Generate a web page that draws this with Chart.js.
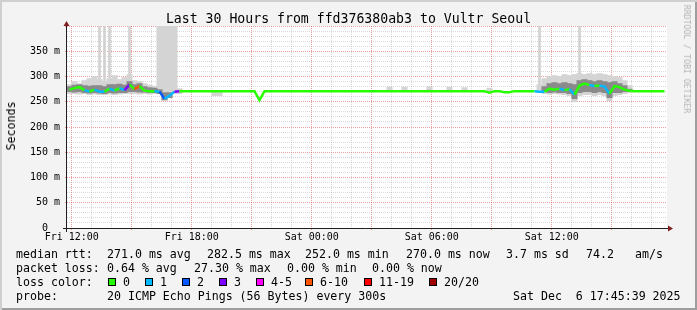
<!DOCTYPE html>
<html>
<head>
<meta charset="utf-8">
<title>Last 30 Hours from ffd376380ab3 to Vultr Seoul</title>
<script src="https://cdn.jsdelivr.net/npm/chart.js@4.4.1/dist/chart.umd.min.js"></script>
<style>
	body { margin: 0; }
	#graph {
		position: relative; width: 697px; height: 310px; overflow: hidden;
		background: #f3f3f3;
		box-shadow: inset 2px 2px 0 #cfcfcf, inset -2px -2px 0 #9e9e9e;
		font-family: "DejaVu Sans Mono", monospace; color: #000;
	}
	#graph canvas { position: absolute; left: 0; top: 0; }
	.t { position: absolute; white-space: pre; font-size: 11.6px; line-height: 14px; }
	.title { left: 0; width: 697px; top: 11px; text-align: center; font-size: 13.2px; line-height: 16px; }
	.ylabel { left: 11px; top: 126px; transform: translate(-50%, -50%) rotate(-90deg); }
	.stamp { left: 687px; top: 59px; transform: translate(-50%, -50%) rotate(90deg); font-size: 8.2px; line-height: 10px; color: #b4b4b4; }
	.box { position: absolute; width: 6px; height: 6px; border: 1px solid #000; top: 278px; }
</style>
</head>
<body>
<div id="graph">
	<canvas id="chart" width="697" height="310"></canvas>
	<div class="t title">Last 30 Hours from ffd376380ab3 to Vultr Seoul</div>
	<div class="t ylabel">Seconds</div>
	<div class="t stamp">RRDTOOL / TOBI OETIKER</div>
</div>
<script>
const _ = null;

// one sample every 15 minutes, first one starts at Fri 11:45:39 (hours after Fri 00:00)
const startHour = 11.76;
const stepHour = 0.25;

// x axis: labelled hours and their text
const tickHours = [12, 18, 24, 30, 36];
const tickLabels = ['Fri 12:00', 'Fri 18:00', 'Sat 00:00', 'Sat 06:00', 'Sat 12:00'];

// median rtt in ms
const median = [
	274, 277, 279, 273, 270, 274, 270, 270, 276, 272,
	277, 273, 284, 275, 281, 272, 271, 271, 270, 256,
	262, 270, 271, 271, 271, 271, 271, 271, 271, 271,
	271, 271, 271, 271, 271, 271, 271, 271, 253, 271,
	271, 271, 271, 271, 271, 271, 271, 271, 271, 271,
	271, 271, 271, 271, 271, 271, 271, 271, 271, 271,
	271, 271, 271, 271, 271, 271, 271, 271, 271, 271,
	271, 271, 271, 271, 271, 271, 271, 271, 271, 271,
	271, 271, 271, 271, 268, 271, 271, 269, 269, 271,
	271, 271, 271, 271, 270, 270, 276, 274, 276, 273,
	275, 264, 282, 286, 283, 281, 282, 280, 266, 281,
	279, 274, 272, 271, 271, 271, 271, 271, 271, 271
];

// lost pings per sample, as an index into lossColors
const loss = [
	0, 0, 0, 0, 1, 0, 1, 1, 0, 1,
	0, 1, 3, 0, 5, 0, 0, 0, 1, 2,
	1, 1, 3, 0, 0, 0, 0, 0, 0, 0,
	0, 0, 0, 0, 0, 0, 0, 0, 0, 0,
	0, 0, 0, 0, 0, 0, 0, 0, 0, 0,
	0, 0, 0, 0, 0, 0, 0, 0, 0, 0,
	0, 0, 0, 0, 0, 0, 0, 0, 0, 0,
	0, 0, 0, 0, 0, 0, 0, 0, 0, 0,
	0, 0, 0, 0, 0, 0, 0, 0, 0, 0,
	0, 0, 0, 0, 1, 1, 0, 0, 0, 1,
	0, 1, 0, 0, 0, 1, 0, 1, 1, 0,
	0, 0, 0, 0, 0, 0, 0, 0, 0, 0
];

// smoke: spread of all pings (light) and of the middle pings (dark), ms
const smokeLo = [
	266, 266, 265, 266, 264, 265, 264, 264, 265, 264,
	265, 266, 266, 266, 265, 266, 265, 266, 268, 252,
	258, 266, 266, _, _, _, _, _, _, 262,
	262, _, _, _, _, _, _, _, _, _,
	_, _, _, _, _, _, _, _, _, _,
	_, _, _, _, _, _, _, _, _, _,
	_, _, _, _, 271, _, _, 271, _, _,
	_, _, 271, _, _, _, 271, _, _, 271,
	_, _, _, _, 268, _, _, _, _, _,
	_, _, _, _, 268, 266, 265, 266, 265, 264,
	262, 250, 262, 264, 264, 262, 264, 262, 252, 262,
	264, 266, 268, _, _, _, _, _, _, _
];
const smokeHi = [
	284, 290, 286, 292, 296, 300, 294, 290, 296, 302,
	294, 298, 304, 292, 290, 286, 283, 281, 400, 400,
	400, 400, 276, _, _, _, _, _, _, 271,
	271, _, _, _, _, _, _, _, _, _,
	_, _, _, _, _, _, _, _, _, _,
	_, _, _, _, _, _, _, _, _, _,
	_, _, _, _, 279, _, _, 279, _, _,
	_, _, 280, _, _, _, 279, _, _, 278,
	_, _, _, _, 277, _, _, _, _, _,
	_, _, _, _, 284, 296, 300, 302, 300, 304,
	302, 304, 306, 304, 306, 304, 306, 304, 302, 300,
	298, 292, 282, _, _, _, _, _, _, _
];
const coreLo = [
	270, 269, 270, 268, 267, 268, 267, 266, 268, 267,
	268, 268, 270, 270, 269, 269, 268, 268, 266, 254,
	258, _, _, _, _, _, _, _, _, _,
	_, _, _, _, _, _, _, _, _, _,
	_, _, _, _, _, _, _, _, _, _,
	_, _, _, _, _, _, _, _, _, _,
	_, _, _, _, _, _, _, _, _, _,
	_, _, _, _, _, _, _, _, _, _,
	_, _, _, _, _, _, _, _, _, _,
	_, _, _, _, _, 270, 268, 269, 268, 268,
	266, 256, 268, 270, 270, 268, 270, 268, 258, 268,
	268, 270, 270, _, _, _, _, _, _, _
];
const coreHi = [
	280, 283, 284, 282, 281, 282, 282, 280, 284, 284,
	285, 283, 290, 284, 286, 280, 278, 277, 274, 268,
	268, _, _, _, _, _, _, _, _, _,
	_, _, _, _, _, _, _, _, _, _,
	_, _, _, _, _, _, _, _, _, _,
	_, _, _, _, _, _, _, _, _, _,
	_, _, _, _, _, _, _, _, _, _,
	_, _, _, _, _, _, _, _, _, _,
	_, _, _, _, _, _, _, _, _, _,
	_, _, _, _, _, 280, 286, 288, 286, 288,
	286, 284, 292, 294, 292, 290, 292, 290, 288, 290,
	286, 282, 275, _, _, _, _, _, _, _
];
// single slow pings that go past the top of the graph
const spikeTop = [
	_, _, _, _, _, _, 400, 400, 400, _,
	_, _, 400, _, _, _, _, _, _, _,
	_, _, _, _, _, _, _, _, _, _,
	_, _, _, _, _, _, _, _, _, _,
	_, _, _, _, _, _, _, _, _, _,
	_, _, _, _, _, _, _, _, _, _,
	_, _, _, _, _, _, _, _, _, _,
	_, _, _, _, _, _, _, _, _, _,
	_, _, _, _, _, _, _, _, _, _,
	_, _, _, _, 400, _, _, _, _, _,
	_, _, 400, _, _, _, _, _, _, _,
	_, _, _, _, _, _, _, _, _, _
];

const lossColors = ['#26ff00', '#00b8ff', '#0059ff', '#7e00ff', '#ff00ff', '#ff5500', '#ff0000', '#a10000'];
const lossLabels = ['0', '1', '2', '3', '4-5', '6-10', '11-19', '20/20'];

const GRID = 'rgba(143,143,143,0.35)';
const MGRID = 'rgba(222,79,79,0.55)';
const FONT = 'DejaVu Sans Mono';

function sampleHour(i) {
	return startHour + (i + 0.5) * stepHour;
}

function floating(lo, hi) {
	const out = [];
	lo.forEach((v, i) => {
		if (v !== null && hi[i] !== null) out.push({x: sampleHour(i), y: [v, hi[i]]});
	});
	return out;
}

const hourTicks = [];
for (let h = 12; h <= 41; h++) hourTicks.push(h);
const msTicks = [];
for (let v = 0; v <= 400; v += 10) msTicks.push(v);

const frame = {
	id: 'frame',
	beforeDraw(chart) {
		const {ctx, chartArea: a} = chart;
		ctx.save();
		ctx.fillStyle = '#fff';
		ctx.fillRect(a.left, a.top, a.right - a.left, a.bottom - a.top);
		ctx.restore();
	},
	afterDatasetsDraw(chart) {
		const {ctx, chartArea: a} = chart;
		ctx.save();
		ctx.strokeStyle = '#1f1f1f';
		ctx.lineWidth = 1;
		ctx.beginPath();
		ctx.moveTo(a.left - 4, a.bottom + 0.5);
		ctx.lineTo(a.right + 1, a.bottom + 0.5);
		ctx.moveTo(a.left - 0.5, a.bottom + 4);
		ctx.lineTo(a.left - 0.5, a.top);
		ctx.stroke();
		ctx.fillStyle = '#801f1f';
		ctx.beginPath();
		ctx.moveTo(a.right + 1, a.bottom - 2.5);
		ctx.lineTo(a.right + 6, a.bottom + 0.5);
		ctx.lineTo(a.right + 1, a.bottom + 3.5);
		ctx.fill();
		ctx.beginPath();
		ctx.moveTo(a.left - 3.5, a.top);
		ctx.lineTo(a.left - 0.5, a.top - 5);
		ctx.lineTo(a.left + 2.5, a.top);
		ctx.fill();
		ctx.restore();
	}
};

new Chart(document.getElementById('chart'), {
	type: 'bar',
	data: {
		datasets: [{
			type: 'line',
			label: 'median rtt',
			order: 0,
			data: median.map((v, i) => ({x: sampleHour(i), y: v})),
			borderColor: lossColors[0],
			borderWidth: 2.5,
			pointRadius: 0,
			segment: {
				borderColor: c => lossColors[loss[c.p1DataIndex]]
			}
		}, {
			label: 'core smoke',
			order: 1,
			data: floating(coreLo, coreHi),
			backgroundColor: '#8a8a8a',
			barThickness: 5.4,
			grouped: false
		}, {
			label: 'smoke',
			order: 2,
			data: floating(smokeLo, smokeHi),
			backgroundColor: '#d4d4d4',
			barThickness: 5.4,
			grouped: false
		}, {
			label: 'outliers',
			order: 3,
			data: floating(median, spikeTop),
			backgroundColor: '#d2d2d2',
			barThickness: 2,
			grouped: false
		}]
	},
	options: {
		responsive: false,
		animation: false,
		layout: {padding: {top: 26, right: 30, left: 0, bottom: 0}},
		plugins: {
			legend: {display: false},
			tooltip: {enabled: false}
		},
		scales: {
			x: {
				type: 'linear',
				offset: false,
				min: startHour,
				max: startHour + 30,
				afterBuildTicks: s => { s.ticks = hourTicks.map(v => ({value: v})); },
				afterFit: s => { s.height = 82; },
				grid: {
					offset: false,
					color: c => (c.tick && c.tick.value % 3 === 0) ? MGRID : GRID,
					tickColor: c => (c.tick && c.tick.value % 3 === 0) ? MGRID : 'transparent',
					tickLength: 2
				},
				border: {display: false, dash: [1, 1]},
				ticks: {
					autoSkip: false,
					maxRotation: 0,
					minRotation: 0,
					padding: 1,
					color: '#000',
					font: {family: FONT, size: 10},
					callback: v => {
						const k = tickHours.indexOf(v);
						return k < 0 ? '' : tickLabels[k];
					}
				}
			},
			y: {
				min: 0,
				max: 400,
				afterBuildTicks: s => { s.ticks = msTicks.map(v => ({value: v})); },
				afterFit: s => { s.width = 67; },
				grid: {
					color: c => (c.tick && c.tick.value % 50 === 0) ? MGRID : GRID,
					tickColor: c => (c.tick && c.tick.value % 50 === 0) ? MGRID : 'transparent',
					tickLength: 2
				},
				border: {display: false, dash: [1, 1]},
				ticks: {
					autoSkip: false,
					padding: 5,
					color: '#000',
					font: {family: FONT, size: 10},
					callback: v => {
						if (v % 50 !== 0 || v >= 400) return '';
						return v === 0 ? '0  ' : v + ' m';
					}
				}
			}
		}
	},
	plugins: [frame]
});

// legend lines under the graph
const legendRows = [
	[[16, 'median rtt:'], [107, '271.0 ms avg'], [207, '282.5 ms max'], [305, '252.0 ms min'],
		[406, '270.0 ms now'], [506, '3.7 ms sd'], [586, '74.2'], [635, 'am/s']],
	[[16, 'packet loss:'], [107, '0.64 % avg'], [194, '27.30 % max'], [287, '0.00 % min'], [372, '0.00 % now']],
	[[16, 'loss color:']],
	[[16, 'probe:'], [107, '20 ICMP Echo Pings (56 Bytes) every 300s'], [513, 'Sat Dec  6 17:45:39 2025']]
];
const lossLabelX = [123, 160, 197, 234, 271, 320, 379, 444];

const graph = document.getElementById('graph');
function put(x, y, text) {
	const el = document.createElement('div');
	el.className = 't';
	el.style.left = x + 'px';
	el.style.top = y + 'px';
	el.textContent = text;
	graph.appendChild(el);
}
legendRows.forEach((row, r) => {
	row.forEach(([x, text]) => put(x, 247 + r * 14, text));
});
lossLabels.forEach((label, i) => {
	const box = document.createElement('div');
	box.className = 'box';
	box.style.left = (lossLabelX[i] - 15) + 'px';
	box.style.background = lossColors[i];
	graph.appendChild(box);
	put(lossLabelX[i], 275, label);
});
</script>
</body>
</html>
